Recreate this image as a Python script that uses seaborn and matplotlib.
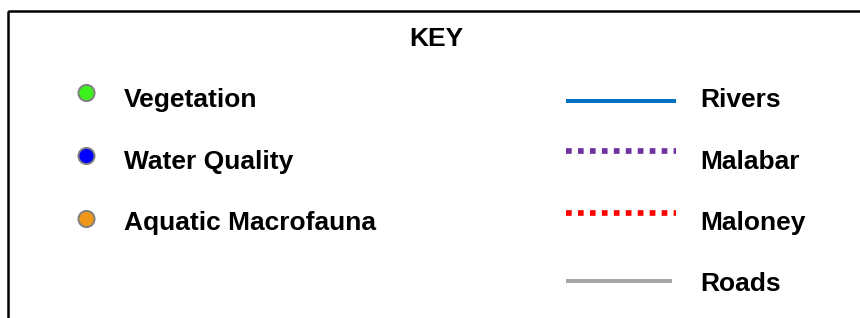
import numpy as np
import pandas as pd
import matplotlib
matplotlib.use('Agg')
import seaborn as sns
import matplotlib.pyplot as plt
from matplotlib.patches import Rectangle

# legend entries
title = "KEY"
point_labels = ["Vegetation", "Water Quality", "Aquatic Macrofauna"]
point_colors = ["#3cf01e", "#0000ff", "#f09619"]
line_labels = ["Rivers", "Malabar", "Maloney", "Roads"]
line_colors = ["#0070c0", "#7030a0", "#ff0000", "#a6a6a6"]
line_kinds = ["solid", "dotted", "dotted", "solid"]

# layout (pixel units)
text_base = [107, 169, 230, 291]
point_dy = [-14, -13, -11]
line_dy = [-6.5, -18, -17, -10]
line_end = [676, 676, 676, 672]

sns.set_theme(style="white")
plt.rcParams['font.family'] = ['Liberation Sans', 'DejaVu Sans']
plt.rcParams['text.color'] = 'black'

fig = plt.figure(figsize=(8.6, 3.18), dpi=100)
ax = fig.add_axes([0, 0, 1, 1])
ax.set_xlim(0, 860)
ax.set_ylim(318, 0)
ax.axis('off')

# box around the key (runs off right and bottom)
ax.add_patch(Rectangle((8, 11), 1000, 500, fill=False, edgecolor='black', lw=1.8))

ax.text(436, 45.5, title, ha='center', va='baseline', fontsize=19, fontweight='bold', color='black')

pts = pd.DataFrame({
    "label": point_labels,
    "x": 86.5,
    "y": [text_base[i] + point_dy[i] for i in range(len(point_labels))],
})
sns.scatterplot(data=pts, x="x", y="y", hue="label", palette=dict(zip(point_labels, point_colors)),
                s=135, edgecolor="#808080", linewidth=1.4, legend=False, ax=ax, zorder=3)
for i, lab in enumerate(point_labels):
    ax.text(124, text_base[i], lab, ha='left', va='baseline', fontsize=19,
            fontweight='bold', color='black')

for i, lab in enumerate(line_labels):
    y = text_base[i] + line_dy[i]
    if line_kinds[i] == "dotted":
        ax.plot([566, line_end[i]], [y, y], color=line_colors[i], lw=4.1,
                linestyle=(0, (1, 1.1)), solid_capstyle='butt', dash_capstyle='butt')
    else:
        ax.plot([566, line_end[i]], [y, y], color=line_colors[i], lw=2.9, solid_capstyle='butt')
    ax.text(700, text_base[i], lab, ha='left', va='baseline', fontsize=19,
            fontweight='bold', color='black')

ax.set(xlabel="", ylabel="")
fig.savefig('out.png', dpi=100)
